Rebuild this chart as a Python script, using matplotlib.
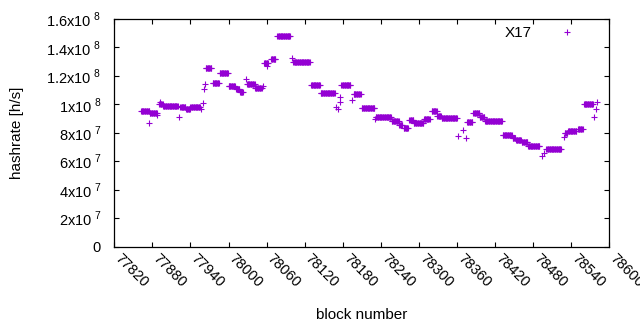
import numpy as np
import matplotlib

matplotlib.use("Agg")
import matplotlib.pyplot as plt

plt.rcParams["font.family"] = ["Liberation Sans", "DejaVu Sans"]
plt.rcParams["mathtext.fontset"] = "custom"
plt.rcParams["mathtext.rm"] = "Liberation Sans"

# runs of blocks that share one hashrate estimate (first block, last block, h/s)
run_start = [77862, 77876, 77891, 77897, 77924, 77933, 77940, 77964, 77975, 77986,
             78000, 78012, 78018, 78029, 78042, 78056, 78067, 78077, 78102, 78130,
             78145, 78178, 78197, 78210, 78232, 78257, 78269, 78276, 78285, 78292,
             78308, 78320, 78329, 78336, 78376, 78386, 78396, 78404, 78432, 78448,
             78453, 78462, 78472, 78501, 78530, 78535, 78551, 78560]
run_end = [77875, 77887, 77896, 77920, 77932, 77939, 77955, 77973, 77985, 77999,
           78010, 78017, 78023, 78041, 78052, 78062, 78074, 78097, 78128, 78144,
           78167, 78192, 78208, 78230, 78256, 78268, 78274, 78283, 78291, 78307,
           78317, 78328, 78335, 78360, 78384, 78395, 78403, 78431, 78446, 78452,
           78461, 78471, 78490, 78524, 78534, 78548, 78558, 78574]
run_rate = [95.1e6, 94.2e6, 100.3e6, 98.7e6, 98.0e6, 97.0e6, 98.0e6, 125.4e6, 114.8e6, 121.8e6,
            112.9e6, 110.6e6, 108.5e6, 114.1e6, 111.7e6, 128.9e6, 131.7e6, 148.1e6, 129.8e6, 113.4e6,
            107.8e6, 113.4e6, 107.1e6, 97.3e6, 90.9e6, 88.5e6, 85.5e6, 83.2e6, 89.0e6, 86.7e6,
            89.5e6, 95.4e6, 92.1e6, 90.2e6, 87.4e6, 93.7e6, 90.9e6, 88.5e6, 78.5e6, 76.2e6,
            75.0e6, 73.8e6, 70.8e6, 68.7e6, 79.7e6, 81.5e6, 82.5e6, 100.3e6]

# isolated blocks
single_block = [77874, 77888, 77892, 77922, 77957, 77960, 77962, 77963, 78027, 78054,
                78060, 78100, 78169, 78173, 78175, 78176, 78194, 78231, 78361, 78369,
                78375, 78494, 78497, 78528, 78576, 78579, 78581]
single_rate = [87.1e6, 92.5e6, 101.9e6, 91.1e6, 96.8e6, 100.8e6, 110.6e6, 114.3e6, 117.6e6, 112.9e6,
               127.0e6, 132.8e6, 98.4e6, 96.5e6, 101.9e6, 105.4e6, 103.1e6, 89.7e6, 77.8e6, 82.0e6,
               76.6e6, 63.7e6, 65.6e6, 77.3e6, 90.9e6, 96.5e6, 101.9e6]

x_ticks = list(range(77820, 78601, 60))
y_ticks = [0, 2e7, 4e7, 6e7, 8e7, 1e8, 1.2e8, 1.4e8, 1.6e8]
y_tick_labels = ["0", r"2x10$^{\ 7}$", r"4x10$^{\ 7}$", r"6x10$^{\ 7}$", r"8x10$^{\ 7}$",
                 r"1x10$^{\ 8}$", r"1.2x10$^{\ 8}$", r"1.4x10$^{\ 8}$", r"1.6x10$^{\ 8}$"]

blocks = []
rates = []
for a, b, r in zip(run_start, run_end, run_rate):
    for blk in range(a, b + 1):
        blocks.append(blk)
        rates.append(r)
blocks += single_block
rates += single_rate

fig = plt.figure(figsize=(6.4, 3.3), dpi=100)
ax = fig.add_axes([0.1786, 0.2524, 0.7734, 0.69])
ax.plot(blocks, rates, linestyle="none", marker="+", color="#9400d3",
        markersize=5, markeredgewidth=0.8, label="X17")

ax.set_xlim(77820, 78600)
ax.set_ylim(0, 1.6e8)
ax.set_xticks(x_ticks)
ax.set_xticklabels([str(v) for v in x_ticks], rotation=-45, ha="left", va="baseline",
                   rotation_mode="anchor", fontsize=10.5)
ax.set_yticks(y_ticks)
ax.set_yticklabels(y_tick_labels, fontsize=10.5)
ax.tick_params(direction="in", length=3.6, width=0.8, top=True, right=True)
ax.tick_params(axis="y", pad=9.5)
ax.tick_params(axis="x", pad=9)
for s in ax.spines.values():
    s.set_linewidth(0.9)

ax.set_xlabel("block number", fontsize=11)
ax.set_ylabel("hashrate [h/s]", fontsize=11)
ax.xaxis.set_label_coords(0.5, -0.27)
ax.yaxis.set_label_coords(-0.182, 0.5)

ax.legend(loc="upper right", bbox_to_anchor=(0.946, 0.969), markerfirst=False, frameon=False,
          handlelength=2, handletextpad=1.3, borderpad=0, borderaxespad=0, fontsize=11)

fig.savefig("out.png", dpi=100)
